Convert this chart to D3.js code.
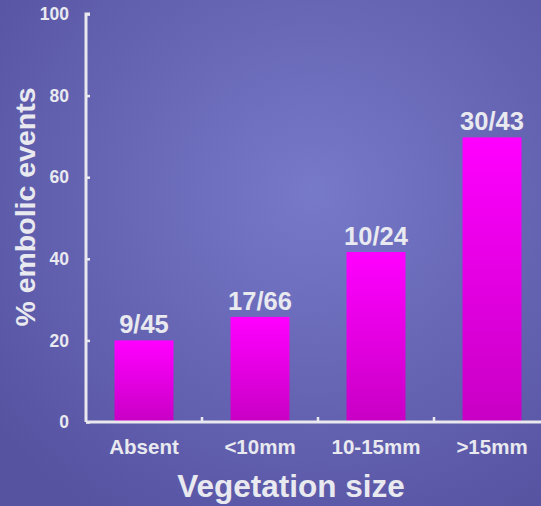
<!DOCTYPE html>
<html>
<head>
<meta charset="utf-8">
<script src="https://cdn.jsdelivr.net/npm/d3@7"></script>
<style>
  html, body { margin: 0; padding: 0; background: #6466b4; }
  svg { display: block; }
  text { font-family: "Liberation Sans", Arial, sans-serif; font-weight: bold; fill: #e9e9f0; }
</style>
</head>
<body>
<svg id="chart" width="541" height="506"></svg>
<script>
// Embolic event rate by vegetation size
const categories = ["Absent", "<10mm", "10-15mm", ">15mm"];
const events = [9, 17, 10, 30];
const totals = [45, 66, 24, 43];
const percents = events.map((e, i) => e / totals[i] * 100);
const yTicks = [0, 20, 40, 60, 80, 100];

const W = 541, H = 506;
const svg = d3.select("#chart");
const defs = svg.append("defs");

const bg = defs.append("radialGradient").attr("id", "bg")
  .attr("cx", "58%").attr("cy", "38%").attr("r", "75%");
bg.append("stop").attr("offset", "0%").attr("stop-color", "#7779c9");
bg.append("stop").attr("offset", "100%").attr("stop-color", "#5653a1");

const barGrad = defs.append("linearGradient").attr("id", "bar")
  .attr("x1", 0).attr("y1", 0).attr("x2", 0).attr("y2", 1);
barGrad.append("stop").attr("offset", "0%").attr("stop-color", "#ff00ff");
barGrad.append("stop").attr("offset", "100%").attr("stop-color", "#c800c4");

svg.append("rect").attr("width", W).attr("height", H).attr("fill", "url(#bg)");

const x0 = 86, x1 = 550, yTop = 14, yBottom = 422;
const x = d3.scaleBand().domain(categories).range([x0, x1]).paddingInner(0).paddingOuter(0);
const y = d3.scaleLinear().domain([0, 100]).range([yBottom, yTop]);
const barW = 59;

// Bars
svg.selectAll("rect.bar").data(categories).join("rect")
  .attr("class", "bar")
  .attr("x", d => x(d) + x.bandwidth() / 2 - barW / 2)
  .attr("width", barW)
  .attr("y", (d, i) => y(percents[i]))
  .attr("height", (d, i) => yBottom - y(percents[i]))
  .attr("fill", "url(#bar)");

// Value labels
svg.selectAll("text.val").data(categories).join("text")
  .attr("class", "val")
  .attr("x", d => x(d) + x.bandwidth() / 2)
  .attr("y", (d, i) => y(percents[i]) - 7)
  .attr("text-anchor", "middle")
  .attr("font-size", 25.5)
  .text((d, i) => `${events[i]}/${totals[i]}`);

// Y axis
const yAxis = d3.axisRight(y).tickValues(yTicks).tickSize(4).tickFormat("");
const yg = svg.append("g").attr("transform", `translate(${x0},0)`).call(yAxis);
yg.select(".domain").attr("stroke", "#e8e8ee").attr("stroke-width", 3)
  .attr("d", `M4,${yTop}H0V${yBottom}`);
yg.selectAll(".tick line").attr("stroke", "#e8e8ee").attr("stroke-width", 2.5);

svg.selectAll("text.ytick").data(yTicks).join("text")
  .attr("class", "ytick")
  .attr("x", 69)
  .attr("y", d => y(d))
  .attr("dy", "0.35em")
  .attr("text-anchor", "end")
  .attr("font-size", 17.5)
  .text(d => d);

// X axis
const xAxis = d3.axisTop(x).tickSize(0).tickFormat("");
const xg = svg.append("g").attr("transform", `translate(0,${yBottom})`).call(xAxis);
xg.select(".domain").attr("stroke", "#e8e8ee").attr("stroke-width", 3)
  .attr("d", `M${x0},0H${W + 2}`);
xg.selectAll(".tick").remove();
// Boundary ticks between categories
svg.selectAll("line.xb").data(categories.slice(1)).join("line")
  .attr("class", "xb")
  .attr("x1", d => x(d)).attr("x2", d => x(d))
  .attr("y1", yBottom).attr("y2", yBottom - 5)
  .attr("stroke", "#e8e8ee").attr("stroke-width", 2.5);

svg.selectAll("text.cat").data(categories).join("text")
  .attr("class", "cat")
  .attr("x", d => x(d) + x.bandwidth() / 2)
  .attr("y", 454)
  .attr("text-anchor", "middle")
  .attr("font-size", 20.5)
  .text(d => d);

// Axis titles
svg.append("text")
  .attr("x", 291).attr("y", 497)
  .attr("text-anchor", "middle")
  .attr("font-size", 31.5)
  .text("Vegetation size");

svg.append("text")
  .attr("transform", "translate(35,207) rotate(-90)")
  .attr("text-anchor", "middle")
  .attr("font-size", 28.5)
  .text("% embolic events");
</script>
</body>
</html>
